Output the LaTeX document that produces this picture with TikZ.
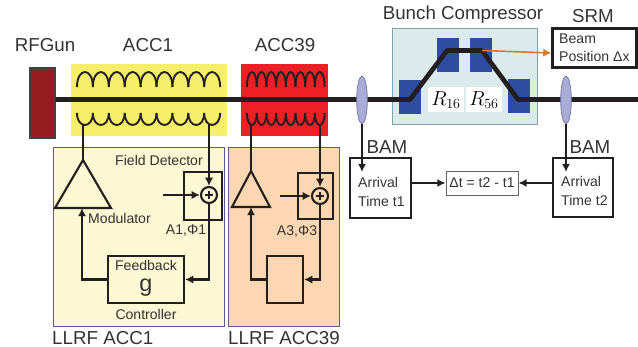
\documentclass[tikz,border=0pt]{standalone}
\usepackage{fontspec}
\setmainfont{Liberation Sans}
\usetikzlibrary{arrows.meta}
\usetikzlibrary{shapes.geometric}
\definecolor{gunred}{HTML}{951C20}
\definecolor{accyellow}{HTML}{F7EF6B}
\definecolor{accred}{HTML}{EE1F25}
\definecolor{llrfyellow}{HTML}{FBF8D3}
\definecolor{llrforange}{HTML}{FCD7B2}
\definecolor{llrfedge}{HTML}{5F5B86}
\definecolor{bcfill}{HTML}{DBEAEB}
\definecolor{bcedge}{HTML}{7FA3A5}
\definecolor{magnetblue}{HTML}{2F4DA0}
\definecolor{lensfill}{HTML}{A9ADD6}
\definecolor{lensedge}{HTML}{6F73AD}
\definecolor{arrorange}{HTML}{D9792B}
\definecolor{inkdark}{HTML}{231F20}
\definecolor{textdark}{HTML}{333333}
\tikzset{
  biglabel/.style={font=\fontsize{16}{18}\selectfont, text=textdark, inner sep=0pt},
  smalllabel/.style={font=\fontsize{12}{15.5}\selectfont, text=textdark, inner sep=0pt},
  wire/.style={draw=inkdark, line width=1.8pt},
  flow/.style={wire, -{Latex[length=7pt,width=7pt]}},
  coil/.style={draw=inkdark, line width=1.6pt},
  blockbox/.style={draw=inkdark, line width=1.8pt, inner sep=0pt},
  magnet/.style={fill=magnetblue, inner sep=0pt, minimum width=0.66cm, minimum height=1.02cm},
  lens/.style={ellipse, draw=lensedge, fill=lensfill, line width=0.6pt, minimum width=0.32cm, minimum height=1.44cm, inner sep=0pt},
  sumnode/.style={circle, draw=inkdark, line width=1.8pt, minimum size=0.48cm, inner sep=0pt,
    path picture={\draw[inkdark, line width=1.8pt]
      ([xshift=-0.13cm]path picture bounding box.center) -- ([xshift=0.13cm]path picture bounding box.center)
      ([yshift=-0.13cm]path picture bounding box.center) -- ([yshift=0.13cm]path picture bounding box.center);}},
}
\begin{document}
\begin{tikzpicture}[x=0.03cm, y=-0.03cm]
  \useasboundingbox (0,0) rectangle (638,347);
  % --- cavities and panels ---
  \node[fill=accyellow, inner sep=0pt, minimum width=4.68cm, minimum height=2.16cm] (acc1) at (149,100) {};
  \node[fill=accred, inner sep=0pt, minimum width=2.61cm, minimum height=2.16cm] (acc39) at (284.5,100) {};
  \node[fill=llrfyellow, draw=llrfedge, line width=0.6pt, inner sep=0pt, minimum width=5.13cm, minimum height=5.37cm] (llrf1) at (138.5,236.5) {};
  \node[fill=llrforange, draw=llrfedge, line width=0.6pt, inner sep=0pt, minimum width=3.33cm, minimum height=5.37cm] (llrf39) at (283.5,236.5) {};
  \node[fill=bcfill, draw=bcedge, line width=0.7pt, inner sep=0pt, minimum width=4.35cm, minimum height=2.88cm] (bc) at (464.5,76) {};
  % --- coils ---
  \foreach \i [evaluate=\i as \x using 77+\i*15.9] in {0,...,8} {
    \draw[coil] (\x,87) .. controls (\x,67) and (\x+15.9,67) .. (\x+15.9,87);
    \draw[coil] (\x,113) .. controls (\x,129) and (\x+15.9,129) .. (\x+15.9,113);
  }
  \foreach \i [evaluate=\i as \x using 247+\i*9.7] in {0,...,7} {
    \draw[coil] (\x,87) .. controls (\x,67) and (\x+9.7,67) .. (\x+9.7,87);
    \draw[coil] (\x,113) .. controls (\x,129) and (\x+9.7,129) .. (\x+9.7,113);
  }
  % --- magnets ---
  \node[magnet] (dip1) at (410,97) {};
  \node[magnet] (dip2) at (448,55) {};
  \node[magnet] (dip3) at (481,55) {};
  \node[magnet] (dip4) at (519,96) {};
  % --- beam line ---
  \node[fill=gunred, draw=inkdark!85, line width=1.8pt, inner sep=0pt, minimum width=0.72cm, minimum height=2.1cm] (gun) at (42.5,103) {};
  \coordinate (beamend) at (638,99.5);
  \coordinate (b1) at (410,99.5);
  \coordinate (b2) at (447,50.5);
  \coordinate (b3) at (482,50.5);
  \coordinate (b4) at (518,99.5);
  \draw[draw=inkdark, line width=4pt, line join=round] (gun.east |- b1) -- (b1) -- (b2) -- (b3) -- (b4) -- (beamend);
  \node[lens] (lens1) at (362,100) {};
  \node[lens] (lens2) at (566,100) {};
  % --- R labels ---
  \node[fill=white, inner sep=0pt, minimum width=1.07cm, minimum height=0.75cm, font=\fontsize{18}{20}\selectfont] (r16) at (446,100) {$R_{16}$};
  \node[fill=white, inner sep=0pt, minimum width=1.07cm, minimum height=0.75cm, font=\fontsize{18}{20}\selectfont] (r56) at (484,100) {$R_{56}$};
  % --- SRM ---
  \node[blockbox, fill=white, minimum width=2.52cm, minimum height=1.17cm] (srm) at (594.5,48) {};
  \node[smalllabel, align=left, anchor=west] (srmtext) at (559,48) {Beam\\Position Δx};
  \draw[draw=arrorange, line width=1.4pt, -{Latex[length=7pt,width=7pt]}] (b3) -- (srm.west |- 0,53);
  % --- LLRF ACC1 ---
  \coordinate (mod1top) at (83,160);
  \coordinate (mod1l) at (55,208);
  \coordinate (mod1r) at (111,208);
  \coordinate (mod1in) at (82,208);
  \draw[wire, line join=miter] (mod1top) -- (mod1l) -- (mod1r) -- cycle;
  \node[blockbox, minimum width=1.14cm, minimum height=1.44cm] (det1) at (203,196) {};
  \node[sumnode, fill=llrfyellow] (sum1) at (209,195) {};
  \node[blockbox, minimum width=2.28cm, minimum height=1.41cm] (fb1) at (146,279.5) {};
  \coordinate (coil1a) at (83,125);
  \coordinate (coil1b) at (209,125);
  \coordinate (in1) at (163,195);
  \draw[wire] (coil1a) -- (mod1top);
  \draw[flow] (coil1b) -- (sum1);
  \draw[flow] (in1) -- (sum1);
  \draw[flow] (sum1) |- (fb1);
  \draw[flow] (fb1.west) -| (mod1in);
  % --- LLRF ACC39 ---
  \coordinate (mod2top) at (251,171);
  \coordinate (mod2l) at (232,207);
  \coordinate (mod2r) at (270,207);
  \coordinate (mod2in) at (251,207);
  \draw[wire, line join=miter] (mod2top) -- (mod2l) -- (mod2r) -- cycle;
  \node[blockbox, minimum width=1.05cm, minimum height=1.38cm] (det2) at (315.5,196) {};
  \node[sumnode, fill=llrforange] (sum2) at (320,196) {};
  \node[blockbox, minimum width=1.08cm, minimum height=1.41cm] (fb2) at (285,279.5) {};
  \coordinate (coil2a) at (251,125);
  \coordinate (coil2b) at (320,125);
  \coordinate (in2) at (280,196);
  \draw[wire] (coil2a) -- (mod2top);
  \draw[flow] (coil2b) -- (sum2);
  \draw[flow] (in2) -- (sum2);
  \draw[flow] (sum2) |- (fb2);
  \draw[flow] (fb2.west) -| (mod2in);
  % --- arrival time ---
  \node[blockbox, fill=white, minimum width=1.83cm, minimum height=1.8cm] (bam1) at (380.5,188) {};
  \node[blockbox, fill=white, minimum width=1.8cm, minimum height=1.77cm] (bam2) at (583,187.5) {};
  \node[draw=inkdark!70, fill=white, line width=0.8pt, inner sep=0pt, minimum width=2.16cm, minimum height=0.72cm, smalllabel, font=\fontsize{12}{14}\selectfont] (delta) at (482,183) {Δt = t2 - t1};
  \coordinate (bam1in) at (362,172);
  \coordinate (bam2in) at (566,172);
  \draw[flow] (lens1.south) -- (bam1in);
  \draw[flow] (lens2.south) -- (bam2in);
  \draw[flow] (bam1.east |- delta) -- (delta);
  \draw[flow] (bam2.west |- delta) -- (delta);
  \node[smalllabel, align=left, anchor=west] (t1text) at (358,192) {Arrival\\Time t1};
  \node[smalllabel, align=left, anchor=west] (t2text) at (561,191) {Arrival\\Time t2};
  % --- labels ---
  \node[biglabel] (lgun) at (45,45) {RFGun};
  \node[biglabel] (lacc1) at (148,45) {ACC1};
  \node[biglabel] (lacc39) at (285,45) {ACC39};
  \node[biglabel] (lbc) at (463,15) {Bunch Compressor};
  \node[biglabel] (lsrm) at (593,16) {SRM};
  \node[biglabel] (lbam1) at (387,147) {BAM};
  \node[biglabel] (lbam2) at (590,147) {BAM};
  \node[biglabel, anchor=west] (lllrf1) at (52,338) {LLRF ACC1};
  \node[biglabel, anchor=west] (lllrf39) at (228,338) {LLRF ACC39};
  \node[smalllabel] (lfield) at (159,160) {Field Detector};
  \node[smalllabel, anchor=west] (lmod) at (88,218) {Modulator};
  \node[smalllabel] (la1) at (186,231) {A1,Φ1};
  \node[smalllabel] (la3) at (297,231) {A3,Φ3};
  \node[smalllabel] (lfb) at (146,265) {Feedback};
  \node[text=textdark, inner sep=0pt, font=\fontsize{20}{22}\selectfont] (lg) at (146,288) {g};
  \node[smalllabel] (lctrl) at (146,314) {Controller};
\end{tikzpicture}
\end{document}
